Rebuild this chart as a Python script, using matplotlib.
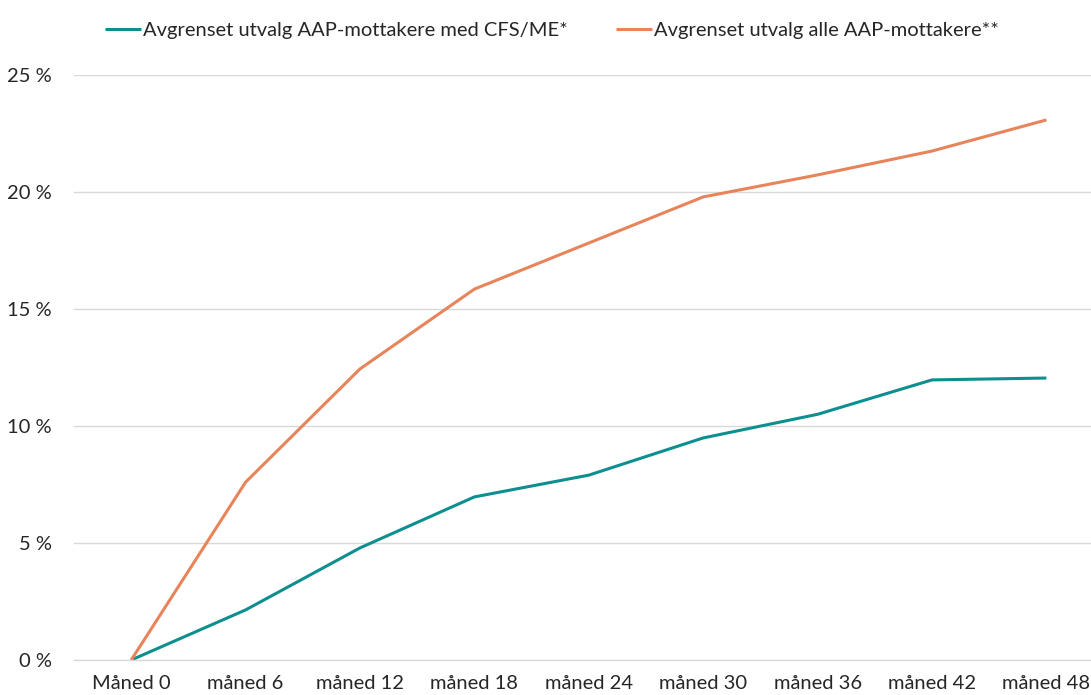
import matplotlib.pyplot as plt
import matplotlib as mpl
from matplotlib.ticker import FuncFormatter

# ---- Data ----
months = ["Måned 0", "måned 6", "måned 12", "måned 18", "måned 24",
          "måned 30", "måned 36", "måned 42", "måned 48"]
cfs_me = [0.0, 2.14, 4.79, 6.97, 7.9, 9.49, 10.5, 11.97, 12.05]
alle_aap = [0.0, 7.6, 12.44, 15.85, 17.82, 19.79, 20.73, 21.75, 23.08]
label_cfs = "Avgrenset utvalg AAP-mottakere med CFS/ME*"
label_alle = "Avgrenset utvalg alle AAP-mottakere**"

# ---- Style ----
mpl.rcParams.update({
    "font.family": ["Lato", "DejaVu Sans"],
    "font.size": 14.5,
    "text.color": "#262626",
    "xtick.color": "#262626",
    "ytick.color": "#262626",
})

fig = plt.figure(figsize=(10.91, 6.95), dpi=100)
ax = fig.add_axes([74 / 1091, 1 - 660 / 695, 1029.6 / 1091, (660 - 75) / 695])

x = range(len(months))
ax.plot(x, [v / 100 for v in cfs_me], color="#0E8F8F", linewidth=2.2,
        label=label_cfs, solid_capstyle="butt")
ax.plot(x, [v / 100 for v in alle_aap], color="#E8845A", linewidth=2.2,
        label=label_alle, solid_capstyle="butt")

ax.set_xlim(-0.5, len(months) - 0.5)
ax.set_ylim(0, 0.25)
ax.set_yticks([0, 0.05, 0.10, 0.15, 0.20, 0.25])
ax.yaxis.set_major_formatter(FuncFormatter(lambda v, _: f"{v * 100:.0f} %"))
ax.set_xticks(list(x))
ax.set_xticklabels(months)
ax.tick_params(axis="both", length=0, labelsize=14.5)
ax.tick_params(axis="x", pad=11)
ax.tick_params(axis="y", pad=16)

ax.yaxis.grid(True, color="#d9d9d9", linewidth=1.0)
ax.set_axisbelow(True)
for s in ["top", "right", "left"]:
    ax.spines[s].set_visible(False)
ax.spines["bottom"].set_color("#d9d9d9")
ax.spines["bottom"].set_linewidth(1.0)

fig.legend(loc="upper center", bbox_to_anchor=(0.506, 0.995), ncol=2,
           frameon=False, fontsize=14.5, handlelength=1.8, handletextpad=0.1,
           columnspacing=2.4)

fig.savefig("out.png", dpi=100, facecolor="white")
